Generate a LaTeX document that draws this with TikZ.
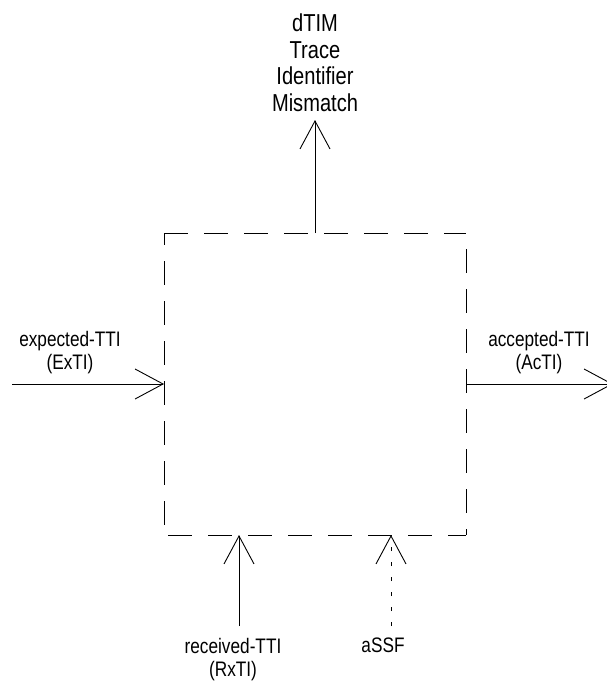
\documentclass[tikz,border=0pt]{standalone}
\usepackage{fontspec}
\setmainfont{Liberation Sans}[FakeStretch=0.82]
\usetikzlibrary{arrows.meta}
\tikzset{
  wire/.style={line width=0.9pt, draw=black},
  openhead/.style={-{Straight Barb[length=28pt,width=30pt,line width=0.9pt]}},
  boxedge/.style={line width=0.9pt, draw=black, dash pattern=on 24pt off 16pt},
  sidelabel/.style={align=center, anchor=north, inner sep=0pt, font=\fontsize{21}{23}\selectfont},
  toplabel/.style={align=center, anchor=north, inner sep=0pt, font=\fontsize{24.5}{26.7}\selectfont},
  dotwire/.style={line width=0.9pt, draw=black, dash pattern=on 4pt off 11pt}
}
\begin{document}
\begin{tikzpicture}[x=1pt,y=-1pt]
\useasboundingbox (0,0) rectangle (607,686);
\clip (0,0) rectangle (607,686);
% box corners
\coordinate (tl) at (164,233);
\coordinate (tr) at (466,233);
\coordinate (bl) at (164,535);
\coordinate (br) at (466,535);
\draw[boxedge] (tl) -- (tr);
\draw[boxedge, dash phase=12pt] (tl) -- (bl);
\draw[boxedge, dash phase=24pt] (tr) -- (br);
\draw[boxedge, dash phase=36pt] (bl) -- (br);
% ports on the box
\coordinate (ptop) at (315,233);
\coordinate (pleft) at (164,384);
\coordinate (pright) at (466,384);
\coordinate (pbot1) at (239,535);
\coordinate (pbot2) at (391,535);
% free ends
\coordinate (etop) at (315,120);
\coordinate (eleft) at (12,384);
\coordinate (eright) at (613,384);
\coordinate (ebot1) at (239,626);
\coordinate (ebot2) at (391,626);
% connectors
\draw[wire, openhead] (ptop) -- (etop);
\draw[wire, openhead] (eleft) -- (pleft);
\draw[wire, openhead] (pright) -- (eright);
\draw[wire, openhead] (ebot1) -- (pbot1);
\draw[dotwire, openhead] (ebot2) -- (pbot2);
% labels
\node[toplabel] (dtim) at (315,13.5) {dTIM\\Trace\\Identifier\\Mismatch};
\node[sidelabel] (exti) at (70,331.5) {expected-TTI\\(ExTI)};
\node[sidelabel] (acti) at (539,331.5) {accepted-TTI\\(AcTI)};
\node[sidelabel] (rxti) at (233,638) {received-TTI\\(RxTI)};
\node[sidelabel] (assf) at (383,638) {aSSF};
\end{tikzpicture}
\end{document}
